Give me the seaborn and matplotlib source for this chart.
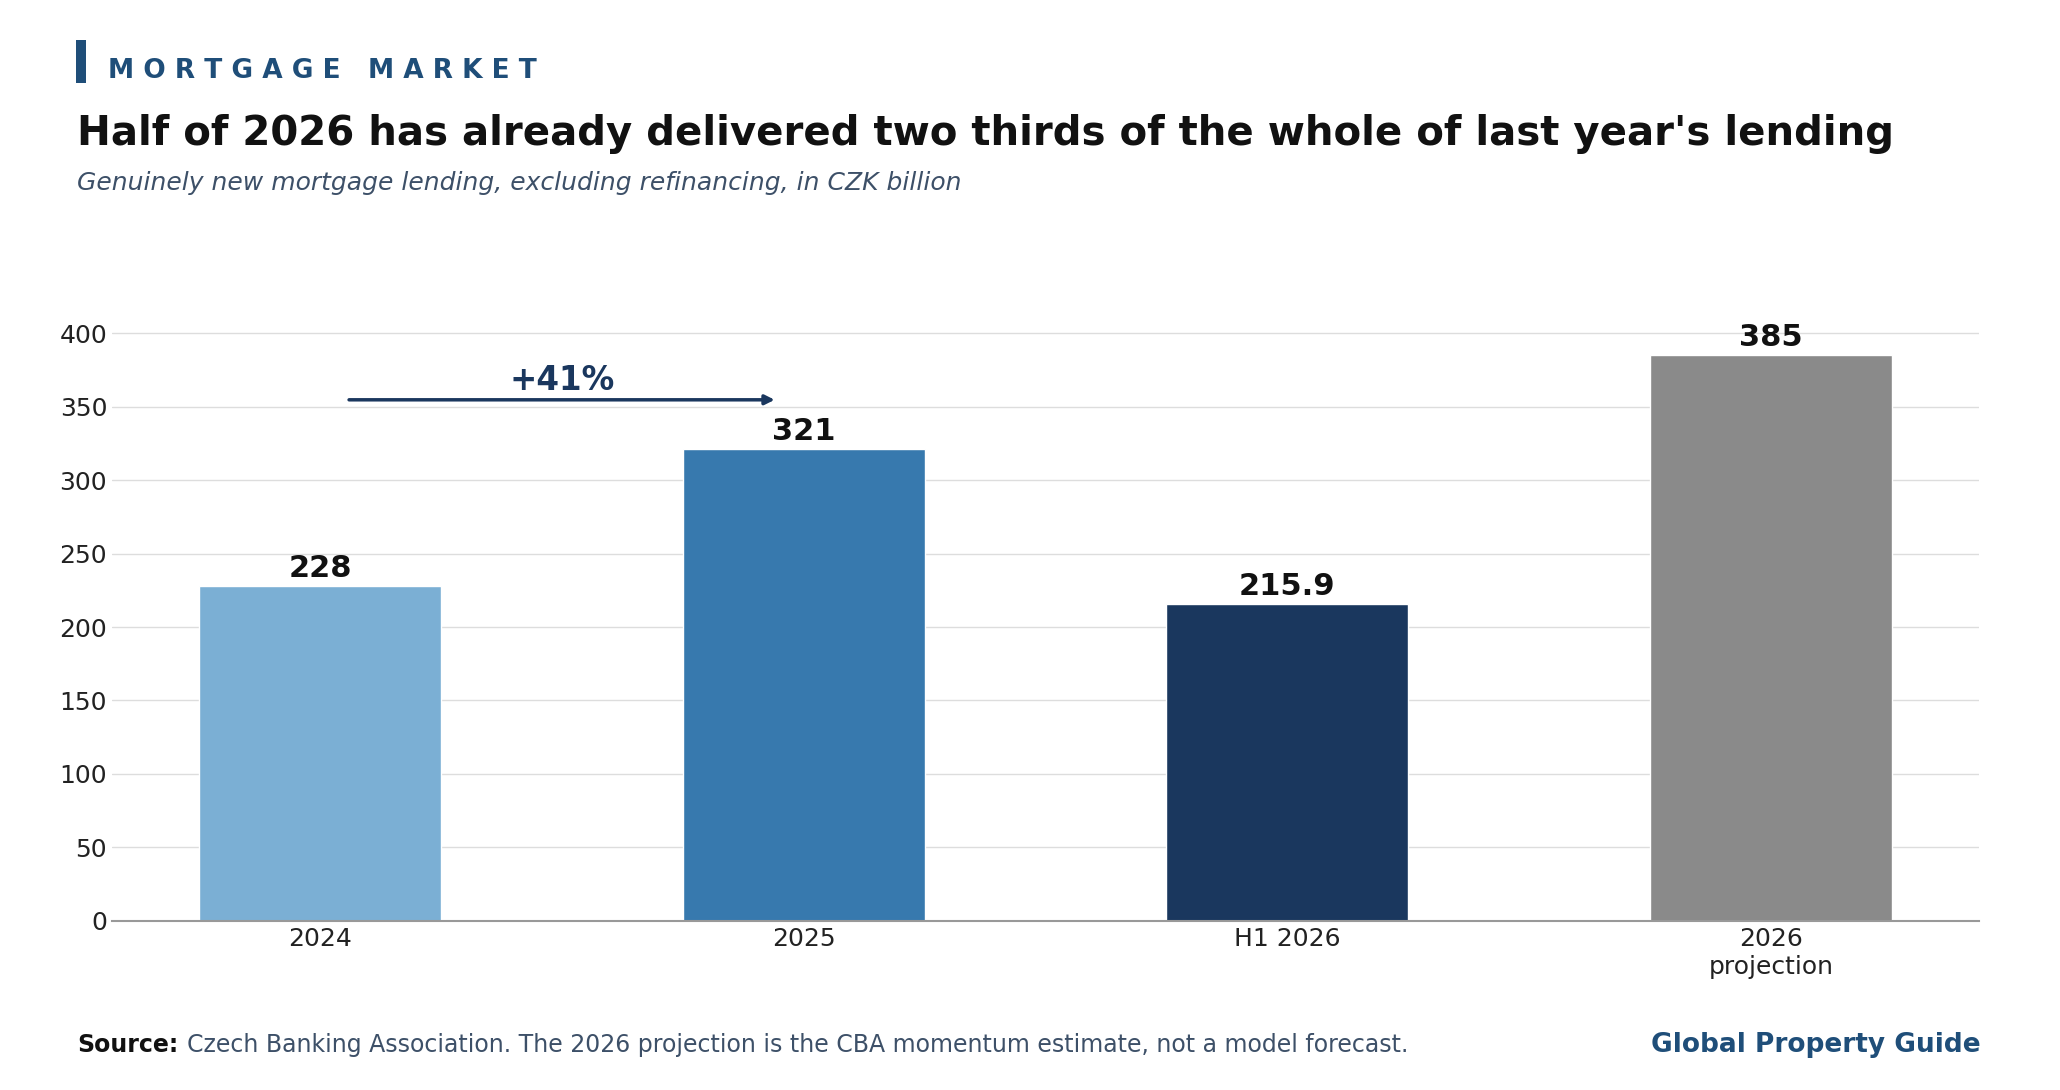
import matplotlib
matplotlib.use("Agg")
import matplotlib.pyplot as plt
import seaborn as sns
import pandas as pd
from matplotlib.patches import Rectangle

# data
categories = ["2024", "2025", "H1 2026", "2026\nprojection"]
lending = [228, 321, 215.9, 385]
value_labels = ["228", "321", "215.9", "385"]
bar_colors = ["#7bafd4", "#3779ae", "#1a375e", "#8a8a8a"]
growth_label = "+41%"

df = pd.DataFrame({"period": categories, "lending": lending})

sns.set_style("white")
plt.rcParams["font.family"] = ["DejaVu Sans"]

fig = plt.figure(figsize=(20.6, 10.9), dpi=100)
ax = fig.add_axes([0.0544, 0.1553, 0.9063, 0.5706])

sns.barplot(data=df, x="period", y="lending", hue="period", palette=bar_colors,
            width=0.5, legend=False, ax=ax, saturation=1)

ax.set_xlim(-0.43, 3.43)
ax.set_ylim(0, max(lending) * 1.1)
ax.set_yticks(range(0, 401, 50))
ax.set_xlabel("")
ax.set_ylabel("")
ax.yaxis.grid(True, color="#dddddd", lw=1)
ax.set_axisbelow(True)
for s in ["top", "right", "left"]:
    ax.spines[s].set_visible(False)
ax.spines["bottom"].set_color("#999999")
ax.spines["bottom"].set_linewidth(1.5)
ax.tick_params(axis="both", length=0, labelsize=18, colors="#222222")
ax.tick_params(axis="y", pad=3.5)
ax.tick_params(axis="x", pad=4.5)

# value labels
for i, (v, lab) in enumerate(zip(lending, value_labels)):
    ax.text(i, v + 6, lab, ha="center", va="baseline", fontsize=22,
            fontweight="bold", color="#111111")

# growth arrow 2024 -> 2025
arrow_y = lending[1] * 1.105
ax.annotate("", xy=(0.94, arrow_y), xytext=(0.06, arrow_y),
            arrowprops=dict(arrowstyle="-|>", color="#1a375e", lw=2.5,
                            mutation_scale=14, shrinkA=0, shrinkB=0))
ax.text(0.5, arrow_y + 7, growth_label, ha="center", va="baseline", fontsize=23.5,
        fontweight="bold", color="#1a375e")

# header
fig.add_artist(Rectangle((0.0369, 0.924), 0.0049, 0.039, transform=fig.transFigure,
                         color="#1f4e79", lw=0))
fig.text(0.0524, 0.928, "M O R T G A G E   M A R K E T", fontsize=19,
         fontweight="bold", color="#1f4e79", va="baseline")
fig.text(0.0374, 0.867,
         "Half of 2026 has already delivered two thirds of the whole of last year's lending",
         fontsize=29, fontweight="bold", color="#111111", va="baseline")
fig.text(0.0374, 0.826,
         "Genuinely new mortgage lending, excluding refinancing, in CZK billion",
         fontsize=18, style="italic", color="#3d5068", va="baseline")

# footer
src = fig.text(0.0374, 0.035, "Source:", fontsize=17, fontweight="bold",
               color="#111111", va="baseline")
ax.annotate("Czech Banking Association. The 2026 projection is the CBA momentum estimate, not a model forecast.",
            xy=(1, 0), xycoords=src, xytext=(6, 0), textcoords="offset points",
            ha="left", va="bottom", fontsize=17, color="#3d5068", annotation_clip=False)
fig.text(0.9615, 0.035, "Global Property Guide", fontsize=19, fontweight="bold",
         color="#1f4e79", ha="right", va="baseline")

fig.savefig("out.png", dpi=100)
